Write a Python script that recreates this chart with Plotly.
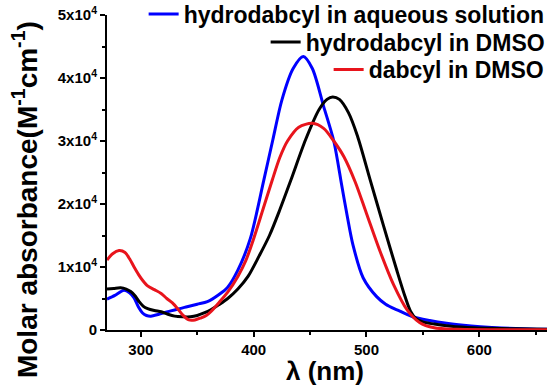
import plotly.graph_objects as go

# ---------------- data ----------------
wl_blue = [270, 277, 285, 290, 294, 298, 301.5, 305, 309, 316, 324, 332, 341, 350, 359, 369, 377, 386,
           397, 409, 417, 425, 435, 444, 452, 462, 471, 478, 483, 488, 497, 509, 517, 527, 541, 556,
           571, 586, 601, 620, 645, 660]
abs_blue = [4.9, 5.5, 6.3, 5.9, 5.1, 3.6, 2.7, 2.3, 2.2, 2.5, 2.9, 3.3, 3.7, 4.1, 4.5, 5.6, 6.8, 9.5,
            14.5, 23.8, 30.2, 36.5, 41.5, 43.4, 41.5, 35.5, 30.0, 23.0, 18.0, 13.5, 8.3, 5.3, 4.1, 3.2, 2.1, 1.5,
            1.06, 0.75, 0.53, 0.32, 0.15, 0.1]

wl_black = [270, 276, 282, 287, 291, 295, 298.5, 302, 306, 312, 318, 324, 330, 337, 344, 350, 356, 362,
            369, 377, 386, 395, 405, 414, 423, 433, 446, 458, 465, 470, 476, 484, 492, 503, 515, 527,
            534, 539, 544, 550, 560, 575, 595, 620, 645, 660]
abs_black = [6.5, 6.6, 6.7, 6.5, 6.1, 5.4, 4.5, 3.8, 3.4, 3.1, 2.9, 2.5, 2.2, 2.1, 2.1, 2.3, 2.7, 3.2,
             4.0, 5.0, 6.5, 8.5, 11.8, 15.0, 19.0, 23.8, 30.2, 35.0, 36.6, 37.0, 36.6, 34.5, 30.8, 24.0, 16.6, 9.4,
             5.4, 3.0, 1.8, 1.3, 0.95, 0.6, 0.35, 0.22, 0.15, 0.1]

wl_red = [270, 275, 280.7, 286, 290, 294, 298, 301.5, 306, 312, 318, 323, 328, 333, 337, 342.6, 348, 353,
          358, 362, 369, 377, 386, 393, 400, 408, 416.5, 423, 430, 440, 452, 462, 471, 480, 490, 500,
          512, 524, 536, 547, 560, 580, 620, 660]
abs_red = [11.1, 12.1, 12.6, 12.3, 11.3, 10.0, 8.8, 7.9, 7.0, 6.4, 5.8, 5.0, 4.3, 3.3, 2.4, 1.6, 1.6, 1.9,
           2.3, 2.9, 4.3, 6.0, 8.5, 11.0, 14.5, 19.0, 23.8, 27.3, 30.0, 32.2, 32.8, 32.0, 30.0, 27.5, 23.5, 18.5,
           12.5, 7.2, 3.2, 1.2, 0.35, 0.1, 0.05, 0.03]

series_names = ["hydrodabcyl in aqueous solution", "hydrodabcyl in DMSO", "dabcyl in DMSO"]
x_ticks = [300, 400, 500, 600]
y_ticks = [0, 10000, 20000, 30000, 40000, 50000]
y_tick_labels = ["0", "1x10<sup>4</sup>", "2x10<sup>4</sup>", "3x10<sup>4</sup>",
                 "4x10<sup>4</sup>", "5x10<sup>4</sup>"]

FONT = "Liberation Sans, Arial, Helvetica, sans-serif"
colors = ["#0000ff", "#000000", "#e8141c"]

fig = go.Figure()
datasets = [(wl_blue, abs_blue), (wl_black, abs_black), (wl_red, abs_red)]
legend_ids = ["legend", "legend2", "legend3"]
for (wx, wy), name, col, lg in zip(datasets, series_names, colors, legend_ids):
    fig.add_trace(go.Scatter(
        x=wx, y=[v * 1000 for v in wy], mode="lines", name=name,
        line=dict(color=col, width=3, shape="spline", smoothing=0.8),
        legend=lg, showlegend=True,
    ))

leg_common = dict(xanchor="right", yanchor="middle", bgcolor="rgba(0,0,0,0)",
                  font=dict(family=FONT, size=23, color="black", weight="bold"),
                  borderwidth=0, tracegroupgap=0, visible=True)

fig.update_layout(
    width=547, height=389,
    showlegend=True,
    margin=dict(l=107, r=0, t=15, b=59, autoexpand=False),
    plot_bgcolor="white", paper_bgcolor="white",
    legend=dict(x=1.006, y=1.003, **leg_common),
    legend2=dict(x=1.006, y=0.914, **leg_common),
    legend3=dict(x=1.006, y=0.827, **leg_common),
    xaxis=dict(
        range=[270, 660], tickmode="array", tickvals=x_ticks,
        ticks="outside", ticklen=5, tickwidth=2, tickcolor="black",
        showline=True, linecolor="black", linewidth=2,
        showgrid=False, zeroline=False,
        tickfont=dict(family=FONT, size=15, color="black", weight="bold"),
        minor=dict(tickmode="linear", tick0=250, dtick=50, ticks="outside",
                   ticklen=3, tickwidth=2, tickcolor="black", showgrid=False),
    ),
    yaxis=dict(
        range=[0, 50000], tickmode="array", tickvals=y_ticks, ticktext=y_tick_labels,
        ticks="outside", ticklen=5, tickwidth=2, tickcolor="black",
        showline=True, linecolor="black", linewidth=2,
        showgrid=False, zeroline=False,
        tickfont=dict(family=FONT, size=15, color="black", weight="bold"),
        minor=dict(tickmode="linear", tick0=0, dtick=5000, ticks="outside",
                   ticklen=3, tickwidth=2, tickcolor="black", showgrid=False),
    ),
    annotations=[
        dict(text="Molar absorbance(M<sup>-1</sup>cm<sup>-1</sup>)", textangle=-90,
             xref="paper", yref="paper", x=-0.186, y=0.413, showarrow=False,
             xanchor="center", yanchor="middle",
             font=dict(family=FONT, size=28, color="black", weight="bold")),
        dict(text="λ (nm)", xref="paper", yref="paper", x=0.495, y=-0.13,
             showarrow=False, xanchor="center", yanchor="middle",
             font=dict(family=FONT, size=26, color="black", weight="bold")),
    ],
)

fig.write_html("out.html", config={"displayModeBar": False},
               post_script="document.body.style.margin='0px';document.body.style.padding='0px';")
